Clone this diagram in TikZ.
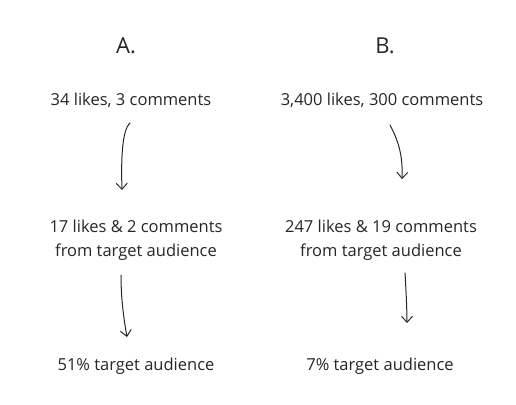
\documentclass[tikz,border=0pt]{standalone}
\usepackage{fontspec}
\setmainfont{Open Sans}
\usetikzlibrary{arrows.meta}
\begin{document}
\begin{tikzpicture}[x=1pt,y=-1pt,
  lbl/.style={font=\fontsize{16.5}{24}\selectfont, text=black!85, inner sep=0pt, align=center},
  ttl/.style={font=\fontsize{22}{26}\selectfont, text=black!85, inner sep=0pt},
  arr/.style={draw=black!85, line width=1pt, line cap=round, -{Straight Barb[length=6pt,width=11pt,line width=1pt]}}]
\useasboundingbox (0,0) rectangle (516,404);
\node[ttl] (ta) at (126,46) {A.};
\node[ttl] (tb) at (385,46) {B.};
\node[lbl] (a1) at (131,100) {34 likes, 3 comments};
\node[lbl] (b1) at (382,100) {3,400 likes, 300 comments};
\node[lbl] (a2) at (136,240) {17 likes \& 2 comments\\from target audience};
\node[lbl] (b2) at (381,240) {247 likes \& 19 comments\\from target audience};
\node[lbl] (a3) at (136,366) {51\% target audience};
\node[lbl] (b3) at (380,366) {7\% target audience};
\coordinate (a1s) at (130,123);
\coordinate (a1e) at (122,190);
\coordinate (b1s) at (390,125);
\coordinate (b1e) at (402,179);
\coordinate (a2s) at (121,275);
\coordinate (a2e) at (127,337);
\coordinate (b2s) at (405,273);
\coordinate (b2e) at (407,323);
\draw[arr] (a1s) .. controls (122,130) and (121,160) .. (a1e);
\draw[arr] (b1s) .. controls (398,140) and (403,155) .. (b1e);
\draw[arr] (a2s) .. controls (121,300) and (124,320) .. (a2e);
\draw[arr] (b2s) .. controls (406,290) and (407,310) .. (b2e);
\end{tikzpicture}
\end{document}
